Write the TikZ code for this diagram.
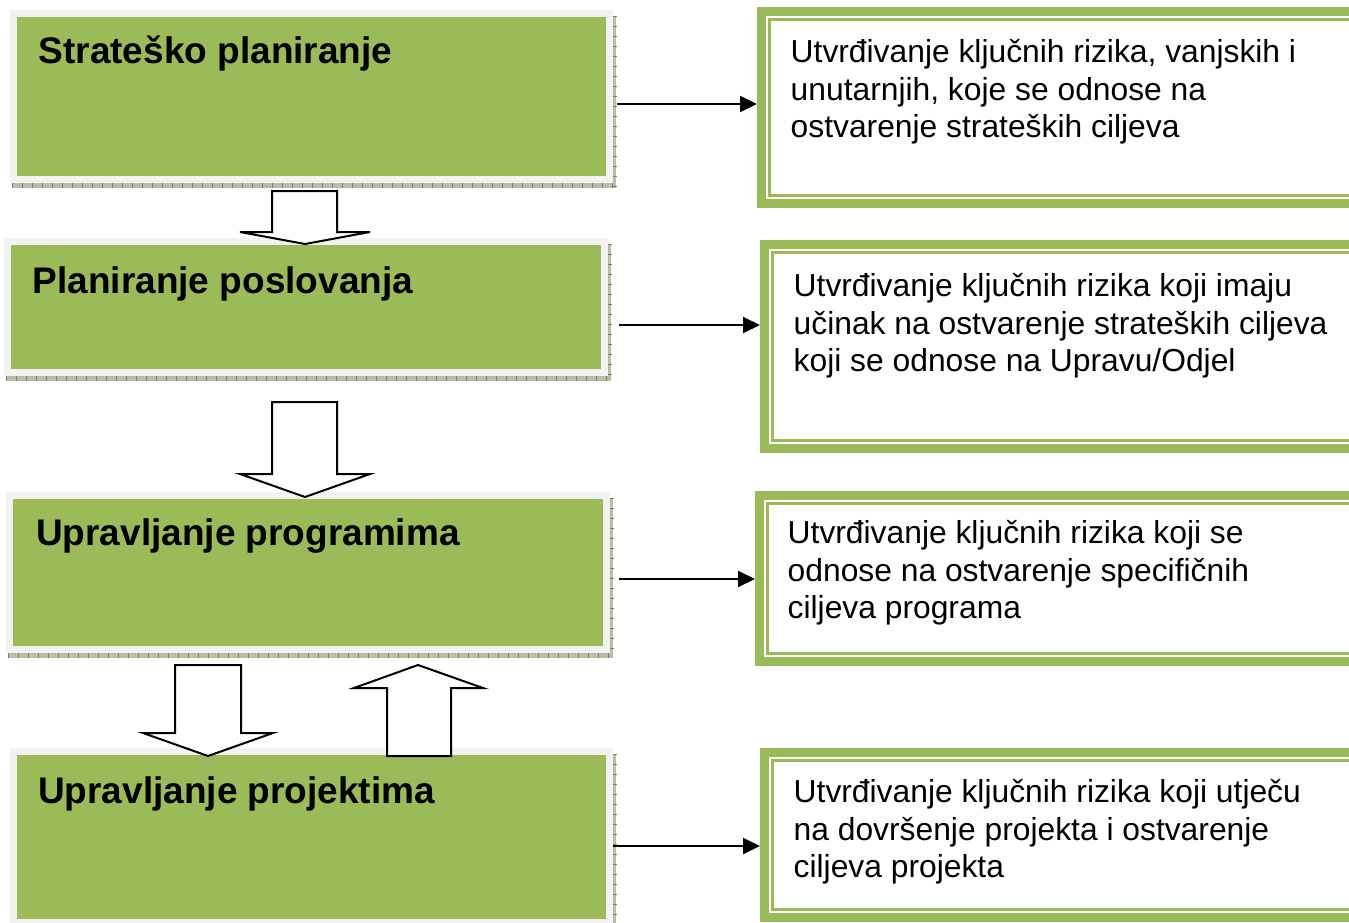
\documentclass[tikz,border=0pt]{standalone}
\usepackage{fontspec}
\setmainfont{Liberation Sans}
\usetikzlibrary{arrows.meta}
\definecolor{olive}{HTML}{9BBB59}
\definecolor{framegray}{HTML}{F2F2F2}
\definecolor{shadowc}{RGB}{182,190,166}
\definecolor{tickc}{RGB}{118,130,98}
\tikzset{
  leftbox/.style={draw=framegray, line width=7pt, fill=olive, inner sep=0pt, outer sep=3.5pt, rectangle},
  rbox/.style={draw=olive, line width=9pt, fill=white, inner sep=0pt, outer sep=4.5pt, rectangle},
  rthin/.style={draw=olive, line width=2.5pt},
  shadowtick/.style={draw=tickc, line width=5pt, dash pattern=on 1pt off 9pt},
  title/.style={font=\bfseries\fontsize{37}{44}\selectfont, anchor=base west, inner sep=0pt},
  desc/.style={font=\fontsize{31.8}{37.5}\selectfont, anchor=north west, align=left, inner sep=0pt},
  conn/.style={draw=black, line width=2pt, -{Triangle[length=17pt,width=16pt]}},
  blockarrow/.style={draw=black, line width=2pt, fill=white, line join=miter},
}
% name, x1, y1, x2, y2 (outer gray frame)
\newcommand\mkleftbox[5]{%
  \fill[shadowc] (#2+2,#5) rectangle (#4+3,#5+5);
  \fill[shadowc] (#4,#3+6) rectangle (#4+3,#5+5);
  \draw[shadowtick] (#2+2,#5+2.5) -- (#4+3,#5+2.5);
  \draw[shadowtick] (#4+1.5,#3+6) -- (#4+1.5,#5+5);
  \node[leftbox, minimum width={#4-#2-7}, minimum height={#5-#3-7}, anchor=north west] (#1) at (#2,#3) {};
}
% name, x1, y1, y2 (outer green frame)
\newcommand\mkrightbox[4]{%
  \node[rbox, minimum width={1420-#2}, minimum height={#4-#3-9}, anchor=north west] (#1) at (#2,#3) {};
  \draw[rthin] (#2+12.5,#3+12.5) rectangle (1420,#4-12.5);
}
\begin{document}
\begin{tikzpicture}[x=1pt,y=-1pt]
\useasboundingbox (0,0) rectangle (1349,923);
\clip (0,0) rectangle (1349,923);

% left boxes
\mkleftbox{s1}{10}{10}{613}{183}
\mkleftbox{s2}{4}{238}{608}{376}
\mkleftbox{s3}{6}{492}{610}{653}
\mkleftbox{s4}{10}{748}{613}{926}

\node[title] (t1) at (38.5,64) {Strateško planiranje};
\node[title] (t2) at (32.5,293) {Planiranje poslovanja};
\node[title] (t3) at (36,545) {Upravljanje programima};
\node[title] (t4) at (38,803) {Upravljanje projektima};

% right boxes
\mkrightbox{r1}{757}{7}{208}
\mkrightbox{r2}{760}{240}{453}
\mkrightbox{r3}{755}{491}{666}
\mkrightbox{r4}{760}{748}{922}

\node[desc] (d1) at (790.5,39.5) {Utvrđivanje ključnih rizika, vanjskih i\\unutarnjih, koje se odnose na\\ostvarenje strateških ciljeva};
\node[desc] (d2) at (793.5,273.5) {Utvrđivanje ključnih rizika koji imaju\\učinak na ostvarenje strateških ciljeva\\koji se odnose na Upravu/Odjel};
\node[desc] (d3) at (787.5,520.5) {Utvrđivanje ključnih rizika koji se\\odnose na ostvarenje specifičnih\\ciljeva programa};
\node[desc] (d4) at (793.5,779.5) {Utvrđivanje ključnih rizika koji utječu\\na dovršenje projekta i ostvarenje\\ciljeva projekta};

% connectors
\draw[conn] ([xshift=4pt]s1.east |- 0,104) -- (r1.west |- 0,104);
\draw[conn] ([xshift=11pt]s2.east |- 0,325) -- (r2.west |- 0,325);
\draw[conn] ([xshift=9pt]s3.east |- 0,579) -- (r3.west |- 0,579);
\draw[conn] (s4.east |- 0,846) -- (r4.west |- 0,846);

% block arrows
\draw[blockarrow] (272,191) -- (337,191) -- (337,232) -- (370,232) -- (305,244) -- (240,232) -- (272,232) -- cycle;
\draw[blockarrow] (272,402) -- (337,402) -- (337,474) -- (370,474) -- (305,497) -- (240,474) -- (272,474) -- cycle;
\draw[blockarrow] (175,665) -- (241,665) -- (241,733) -- (273,733) -- (208,756) -- (143,733) -- (175,733) -- cycle;
\draw[blockarrow] (387,756) -- (451,756) -- (451,688) -- (483,688) -- (418,665) -- (354,688) -- (387,688) -- cycle;
\end{tikzpicture}
\end{document}
